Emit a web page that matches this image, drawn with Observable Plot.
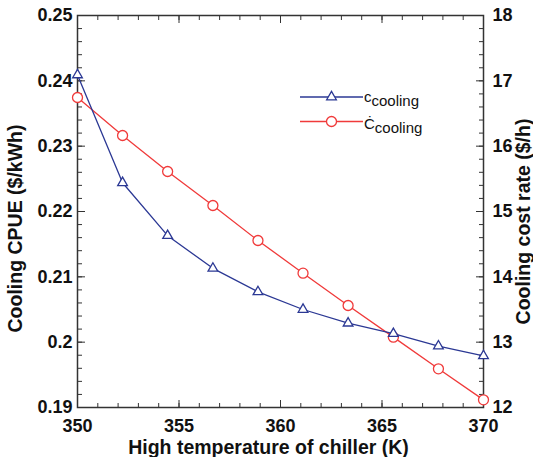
<!DOCTYPE html>
<html><head><meta charset="utf-8">
<script src="https://cdn.jsdelivr.net/npm/d3@7"></script>
<script src="https://cdn.jsdelivr.net/npm/@observablehq/plot@0.6"></script>
<style>
body{margin:0;background:#fff}
#chart svg{font-family:"Liberation Sans",Arial,Helvetica,sans-serif;overflow:visible}
</style>
</head><body><div id="chart"></div>
<script>
// Data
const temperature = [350, 352.22, 354.44, 356.67, 358.89, 361.11, 363.33, 365.56, 367.78, 370];
const cpue = [0.2409, 0.2244, 0.2163, 0.2113, 0.2077, 0.2050, 0.2029, 0.2013, 0.1994, 0.1979];   // $/kWh (left axis)
const costRate = [16.745, 16.163, 15.612, 15.092, 14.556, 14.056, 13.561, 13.077, 12.592, 12.117]; // $/h (right axis)

const xDomain = [350, 370];
const leftDomain = [0.19, 0.25];
const rightDomain = [12, 18];
const xMajorTicks = [350, 355, 360, 365, 370];
const leftMajorTicks = [0.19, 0.2, 0.21, 0.22, 0.23, 0.24, 0.25];
const rightMajorTicks = [12, 13, 14, 15, 16, 17, 18];
const xLabel = "High temperature of chiller (K)";
const leftLabel = "Cooling CPUE ($/kWh)";
const rightLabel = "Cooling cost rate ($/h)";
const seriesNames = ["c", "Ċ"];
const seriesSub = "cooling";

const blue = "#2b3894", red = "#f03a3a", axisColor = "#333";
const toLeft = v => leftDomain[0] + (v - rightDomain[0]) * (leftDomain[1] - leftDomain[0]) / (rightDomain[1] - rightDomain[0]);
const fromLeft = v => rightDomain[0] + (v - leftDomain[0]) * (rightDomain[1] - rightDomain[0]) / (leftDomain[1] - leftDomain[0]);

const xMinor = d3.range(xDomain[0], xDomain[1] + 0.5, 1);
const leftMinor = d3.range(0, 31).map(i => leftDomain[0] + i * 0.002);
const rightMinor = d3.range(0, 31).map(i => toLeft(rightDomain[0] + i * 0.2));

const cpueData = temperature.map((t, i) => ({t, v: cpue[i]}));
const costData = temperature.map((t, i) => ({t, v: toLeft(costRate[i])}));

const font = {fontSize: 18, fontWeight: "bold"};
const blank = () => "";

const chart = Plot.plot({
  width: 533, height: 457,
  marginLeft: 77, marginRight: 50, marginTop: 15, marginBottom: 50,
  style: {fontFamily: '"Liberation Sans", Arial, sans-serif', color: "#111", background: "#fff"},
  x: {domain: xDomain},
  y: {domain: leftDomain},
  marks: [
    Plot.frame({stroke: axisColor, strokeWidth: 1.5}),
    // bottom axis
    Plot.axisX({anchor: "bottom", ticks: xMinor, tickSize: -4, tickFormat: blank, stroke: axisColor, label: null}),
    Plot.axisX({anchor: "bottom", ticks: xMajorTicks, tickSize: -7, tickPadding: 19, tickFormat: d => String(d), stroke: axisColor, fill: "#111", label: null, ...font}),
    // top axis
    Plot.axisX({anchor: "top", ticks: xMinor, tickSize: -4, tickFormat: blank, stroke: axisColor, label: null}),
    Plot.axisX({anchor: "top", ticks: xMajorTicks, tickSize: -7, tickFormat: blank, stroke: axisColor, label: null}),
    // left axis
    Plot.axisY({anchor: "left", ticks: leftMinor, tickSize: -5, tickFormat: blank, stroke: axisColor, label: null}),
    Plot.axisY({anchor: "left", ticks: leftMajorTicks, tickSize: -8, tickPadding: 13, tickFormat: d => String(+d.toFixed(2)), stroke: axisColor, fill: "#111", label: null, ...font}),
    // right axis
    Plot.axisY({anchor: "right", ticks: rightMinor, tickSize: -5, tickFormat: blank, stroke: axisColor, label: null}),
    Plot.axisY({anchor: "right", ticks: rightMajorTicks.map(toLeft), tickSize: -8, tickPadding: 17, tickFormat: d => String(Math.round(fromLeft(d))), stroke: axisColor, fill: "#111", label: null, ...font}),
    // axis titles
    Plot.text([xLabel], {frameAnchor: "bottom", textAnchor: "middle", lineAnchor: "bottom", dy: 46, dx: -12, fontSize: 19.5, fontWeight: "bold", fill: "#111"}),
    Plot.text([leftLabel], {frameAnchor: "left", textAnchor: "middle", rotate: -90, dx: -62, dy: 17, fontSize: 19.5, fontWeight: "bold", fill: "#111"}),
    Plot.text([rightLabel], {frameAnchor: "right", textAnchor: "middle", rotate: -90, dx: 40, dy: 10, fontSize: 19.5, fontWeight: "bold", fill: "#111"}),
    // series
    Plot.line(costData, {x: "t", y: "v", stroke: red, strokeWidth: 1.3}),
    Plot.dot(costData, {x: "t", y: "v", r: 5, stroke: red, fill: "white", strokeWidth: 1.3}),
    Plot.line(cpueData, {x: "t", y: "v", stroke: blue, strokeWidth: 1.3}),
    Plot.dot(cpueData, {x: "t", y: "v", symbol: "triangle", r: 3.6, stroke: blue, fill: "white", strokeWidth: 1.3})
  ]
});
document.getElementById("chart").appendChild(chart);

// Legend (inside the plot, top right)
const svg = d3.select(chart);
const legend = svg.append("g").attr("transform", "translate(300,97)");
const rows = [{color: blue, symbol: d3.symbolTriangle, size: Math.PI * 3.6 * 3.6, y: 0, name: seriesNames[0], base: 5},
              {color: red, symbol: d3.symbolCircle, size: Math.PI * 25, y: 24.5, name: seriesNames[1], base: 7}];
rows.forEach(r => {
  const g = legend.append("g").attr("transform", `translate(0,${r.y})`);
  g.append("line").attr("x1", 0).attr("x2", 63).attr("y1", 0).attr("y2", 0).attr("stroke", r.color).attr("stroke-width", 1.3);
  g.append("path").attr("d", d3.symbol(r.symbol, r.size)()).attr("transform", "translate(31.5,0)")
    .attr("fill", "white").attr("stroke", r.color).attr("stroke-width", 1.3);
  const t = g.append("text").attr("x", 64).attr("y", r.base).attr("text-anchor", "start")
    .attr("font-size", 15).attr("font-weight", "normal").attr("fill", "#111");
  t.append("tspan").text(r.name);
  t.append("tspan").attr("dy", 4).text(seriesSub);
});
</script>
</body></html>
